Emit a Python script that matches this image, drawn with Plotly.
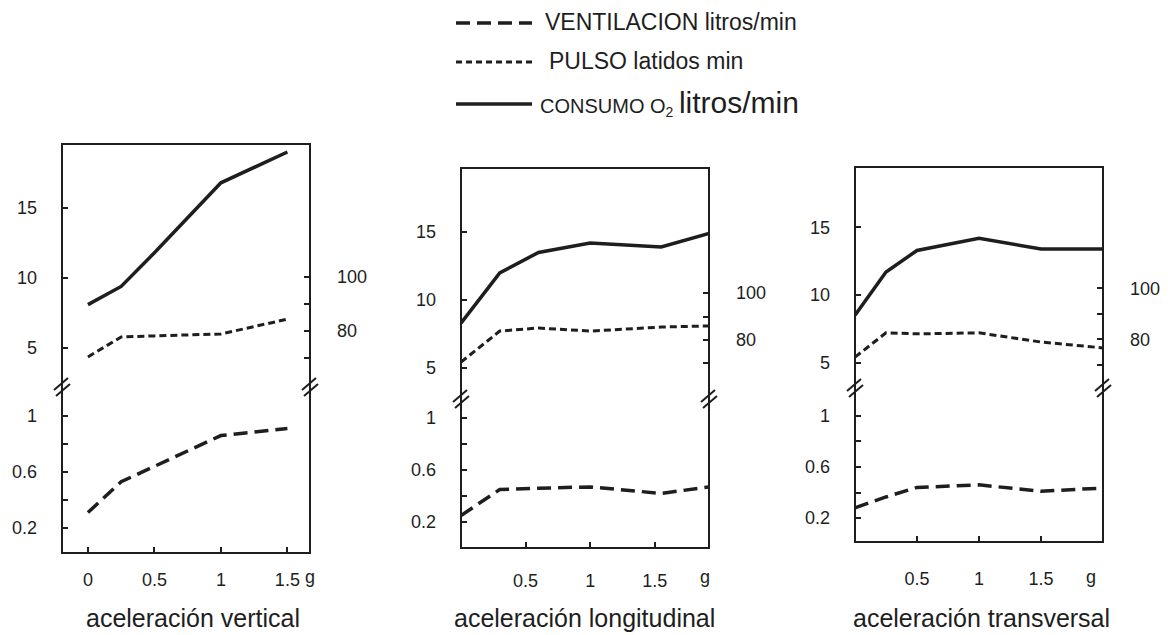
import plotly.graph_objects as go

# Acceleration levels (g) for each exposure direction
g_vertical = [0, 0.25, 0.5, 1, 1.5]
g_longitudinal = [0, 0.3, 0.6, 1, 1.55, 1.92]
g_transversal = [0, 0.25, 0.5, 1, 1.5, 2]

# CONSUMO O2 (upper left scale)
consumo_vertical = [8.1, 9.4, 11.8, 16.8, 19.0]
consumo_longitudinal = [8.3, 12.0, 13.5, 14.2, 13.9, 14.9]
consumo_transversal = [8.5, 11.7, 13.3, 14.2, 13.4, 13.4]

# PULSO latidos/min (right scale)
pulso_vertical = [70.4, 77.8, 78.2, 78.9, 84.4]
pulso_longitudinal = [70.6, 83.8, 85.1, 83.8, 85.5, 86.0]
pulso_transversal = [73.0, 82.5, 82.1, 82.5, 78.9, 76.6]

# VENTILACION (lower left scale)
ventilacion_vertical = [0.31, 0.53, 0.64, 0.86, 0.91]
ventilacion_longitudinal = [0.25, 0.45, 0.46, 0.47, 0.42, 0.47]
ventilacion_transversal = [0.28, 0.365, 0.44, 0.46, 0.41, 0.435]

panel_titles = ["aceleración vertical", "aceleración longitudinal", "aceleración transversal"]
x_tick_values = [[0, 0.5, 1, 1.5], [0.5, 1, 1.5], [0.5, 1, 1.5]]
x_tick_labels = [["0", "0.5", "1", "1.5"], ["0.5", "1", "1.5"], ["0.5", "1", "1.5"]]
unit_label = "g"
upper_ticks = [5, 10, 15]
upper_labels = ["5", "10", "15"]
lower_ticks = [0.2, 0.6, 1]
lower_labels = ["0.2", "0.6", "1"]
lower_minor_ticks = [0.4, 0.8]
pulse_ticks = [80, 100]
pulse_labels = ["80", "100"]
pulse_minor_ticks = [70, 90]
legend_ventilacion = "VENTILACION litros/min"
legend_pulso = "PULSO latidos min"
legend_consumo = "CONSUMO O<sub>2</sub>"
legend_consumo_unit = "litros/min"

series = [
    (g_vertical, consumo_vertical, pulso_vertical, ventilacion_vertical),
    (g_longitudinal, consumo_longitudinal, pulso_longitudinal, ventilacion_longitudinal),
    (g_transversal, consumo_transversal, pulso_transversal, ventilacion_transversal),
]

W, H = 1168, 635
INK = "#1e1e1e"
FONT = "Liberation Sans"


def fx(px):
    return px / W


def fy(py):
    return 1 - py / H


# frame geometry in pixels and axis ranges for each panel
panels = [
    dict(left=62, right=310, top=144, brk=385, bottom=553,
         xr=[-0.195, 1.67], ur=[2.36, 19.57], rr=[60.0, 149.3], lr=[0.021, 1.221],
         xstand=14, unit_x=1.67, title_x=193),
    dict(left=461, right=709, top=168, brk=397, bottom=548,
         xr=[0, 1.92], ur=[2.87, 19.71], rr=[55.74, 153.2], lr=[0.0, 1.1615],
         xstand=20, unit_x=1.89, title_x=584),
    dict(left=855, right=1103, top=167, brk=386, bottom=542,
         xr=[0, 2.0], ur=[3.26, 19.48], rr=[61.67, 147.5], lr=[0.012, 1.235],
         xstand=24, unit_x=1.9, title_x=981),
]

fig = go.Figure()
layout = {}
shapes = []
annotations = []

tick_font = dict(family=FONT, size=18, color=INK)
tick_style = dict(showgrid=False, zeroline=False, showline=False, ticks="inside",
                  ticklen=6, tickwidth=1.5, tickcolor=INK, tickfont=tick_font,
                  fixedrange=True)
minor_style = dict(ticks="inside", ticklen=6, tickwidth=1.5, tickcolor=INK,
                   showgrid=False)

for i, (p, (gx, consumo, pulso, vent)) in enumerate(zip(panels, series)):
    xname = "x" if i == 0 else f"x{i + 1}"
    xkey = "xaxis" if i == 0 else f"xaxis{i + 1}"
    nu, nl, nr = 3 * i + 1, 3 * i + 2, 3 * i + 3
    yu = "y" if nu == 1 else f"y{nu}"
    yl, yr = f"y{nl}", f"y{nr}"
    yu_key = "yaxis" if nu == 1 else f"yaxis{nu}"

    xdom = [fx(p["left"]), fx(p["right"])]
    udom = [fy(p["brk"]), fy(p["top"])]
    ldom = [fy(p["bottom"]), fy(p["brk"])]

    fig.add_trace(go.Scatter(x=gx, y=consumo, xaxis=xname, yaxis=yu, mode="lines",
                             line=dict(color=INK, width=3.5), showlegend=False,
                             hoverinfo="skip"))
    fig.add_trace(go.Scatter(x=gx, y=pulso, xaxis=xname, yaxis=yr, mode="lines",
                             line=dict(color=INK, width=3, dash="7px,4px"),
                             showlegend=False, hoverinfo="skip"))
    fig.add_trace(go.Scatter(x=gx, y=vent, xaxis=xname, yaxis=yl, mode="lines",
                             line=dict(color=INK, width=3.5, dash="14px,7px"),
                             showlegend=False, hoverinfo="skip"))

    layout[xkey] = dict(domain=xdom, anchor=yl, range=p["xr"],
                        tickvals=x_tick_values[i], ticktext=x_tick_labels[i],
                        ticklabelstandoff=p["xstand"], **tick_style)
    layout[yu_key] = dict(domain=udom, anchor=xname, range=p["ur"],
                          tickvals=upper_ticks, ticktext=upper_labels,
                          ticklabelstandoff=24, **tick_style)
    layout[f"yaxis{nl}"] = dict(domain=ldom, anchor=xname, range=p["lr"],
                                tickvals=lower_ticks, ticktext=lower_labels,
                                minor=dict(tickvals=lower_minor_ticks, **minor_style),
                                ticklabelstandoff=24, **tick_style)
    layout[f"yaxis{nr}"] = dict(overlaying=yu, side="right", anchor=xname, range=p["rr"],
                                tickvals=pulse_ticks, ticktext=pulse_labels,
                                minor=dict(tickvals=pulse_minor_ticks, **minor_style),
                                ticklabelstandoff=26, **tick_style)

    # panel frame
    shapes.append(dict(type="rect", xref=f"{xname} domain", x0=0, x1=1, yref="paper",
                       y0=ldom[0], y1=udom[1], line=dict(color=INK, width=2),
                       fillcolor="rgba(0,0,0,0)", layer="above"))
    # scale break marks on both sides
    for side in (0, 1):
        shapes.append(dict(type="path", xref=f"{xname} domain", xsizemode="pixel",
                           xanchor=side, yref="paper", ysizemode="pixel",
                           yanchor=udom[0],
                           path="M -8,-5 L 6,7 M -6,-11 L 8,1",
                           line=dict(color=INK, width=2)))

    annotations.append(dict(text=unit_label, xref=xname, x=p["unit_x"], yref="paper",
                            y=fy(577), showarrow=False, xanchor="center",
                            yanchor="middle", font=tick_font))
    annotations.append(dict(text=panel_titles[i], xref="paper", x=fx(p["title_x"]),
                            yref="paper", y=fy(618), showarrow=False, xanchor="center",
                            yanchor="middle",
                            font=dict(family=FONT, size=25, color=INK)))

# key at the top
legend_rows = [
    (23, "14px,7px", 3.5, legend_ventilacion, 543, 23),
    (62, "6px,4px", 3, legend_pulso, 547, 23),
    (104, "solid", 3.5,
     f"{legend_consumo} <span style='font-size:30px'>{legend_consumo_unit}</span>", 538, 20),
]
for py, dash, width, text, tx, size in legend_rows:
    shapes.append(dict(type="line", xref="paper", yref="paper", x0=fx(456), x1=fx(532),
                       y0=fy(py), y1=fy(py), line=dict(color=INK, width=width, dash=dash)))
    annotations.append(dict(text=text, xref="paper", x=fx(tx), yref="paper", y=fy(py - 1),
                            showarrow=False, xanchor="left", yanchor="middle",
                            font=dict(family=FONT, size=size, color=INK)))

fig.update_layout(
    width=W, height=H, margin=dict(l=0, r=0, t=0, b=0),
    paper_bgcolor="white", plot_bgcolor="white",
    showlegend=False, shapes=shapes, annotations=annotations,
    **layout,
)

fig.write_html("out.html", config={"displayModeBar": False})
